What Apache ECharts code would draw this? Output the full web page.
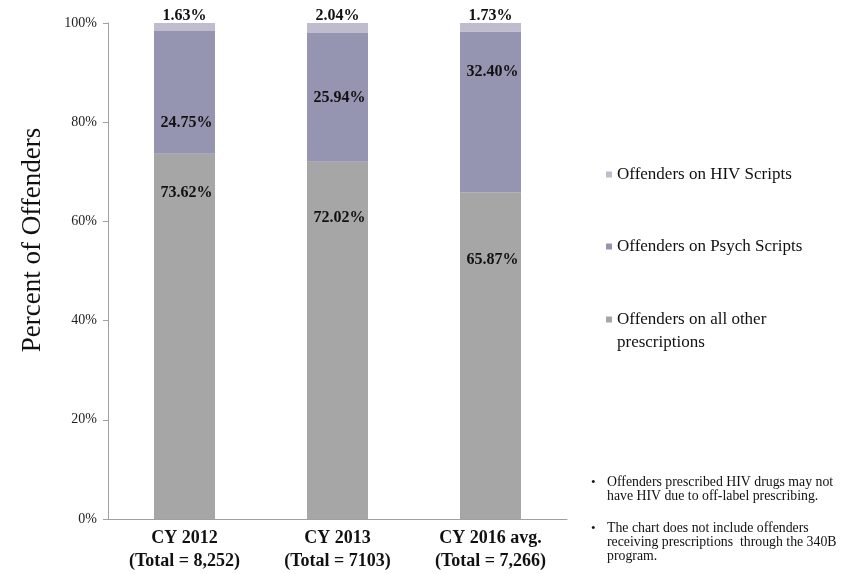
<!DOCTYPE html>
<html>
<head>
<meta charset="utf-8">
<script src="https://cdn.jsdelivr.net/npm/echarts@6/dist/echarts.min.js"></script>
<style>
  html, body { margin: 0; padding: 0; background: #ffffff; }
  #chart { width: 843px; height: 574px; }
</style>
</head>
<body>
<div id="chart"></div>
<script>
// Offender prescription mix by year (percent of offenders)
const categories = ['CY 2012\n(Total = 8,252)', 'CY 2013\n(Total = 7103)', 'CY 2016 avg.\n(Total = 7,266)'];
const otherRx = [73.62, 72.02, 65.87];
const psychRx = [24.75, 25.94, 32.40];
const hivRx = [1.63, 2.04, 1.73];
const seriesNames = ['Offenders on HIV Scripts', 'Offenders on Psych Scripts', 'Offenders on all other\nprescriptions'];
const notes = [
  ['Offenders prescribed HIV drugs may not', 'have HIV due to off-label prescribing.'],
  ['The chart does not include offenders', 'receiving prescriptions  through the 340B', 'program.']
];

// label placement inside segments (px from the segment top)
const otherLabelDy = [39, 56, 68];
const psychLabelDy = [92, 65, 40];

const FONT = "'Liberation Serif', 'DejaVu Serif', serif";
const colors = { hiv: '#bebccd', psych: '#9695b1', other: '#a6a6a6' };

const labelStyle = {
  fontFamily: FONT, fontWeight: 'bold', fontSize: 16, color: '#111'
};
const fmt = p => p.value.toFixed(2) + '%';

function withLabels(values, dys) {
  return values.map((v, i) => ({
    value: v,
    label: { position: ['50%', dys[i]], offset: [2, 0], align: 'center', verticalAlign: 'middle' }
  }));
}

const chart = echarts.init(document.getElementById('chart'), null, { renderer: 'canvas' });

const legendBase = {
  orient: 'vertical', left: 601, itemWidth: 6, itemHeight: 6, itemGap: 0,
  icon: 'rect',
  textStyle: { fontFamily: FONT, fontSize: 17, color: '#111', lineHeight: 23 }
};

const noteGraphics = [];
let ny = 475;
notes.forEach((lines) => {
  noteGraphics.push({ type: 'text', left: 591, top: ny + 1, style: { text: '•', font: '13px ' + FONT, fill: '#111' } });
  noteGraphics.push({ type: 'text', left: 607, top: ny, style: { text: lines.join('\n'), font: '13.8px ' + FONT, lineHeight: 14, fill: '#111' } });
  ny += lines.length * 14 + 18;
});

chart.setOption({
  animation: false,
  color: [colors.hiv, colors.psych, colors.other],
  grid: { left: 108, right: 276, top: 23, bottom: 55, containLabel: false, outerBoundsMode: 'none' },
  legend: [
    Object.assign({}, legendBase, { top: 158, data: [seriesNames[0]] }),
    Object.assign({}, legendBase, { top: 230, data: [seriesNames[1]] }),
    Object.assign({}, legendBase, {
      top: 280, data: [seriesNames[2]],
      // leading blank line keeps the swatch level with the first text line
      formatter: name => '\n' + name
    })
  ],
  xAxis: {
    type: 'category',
    data: categories,
    axisLine: { lineStyle: { color: '#a0a0a0' } },
    axisTick: { length: 6, lineStyle: { color: '#a0a0a0' } },
    axisLabel: { fontFamily: FONT, fontWeight: 'bold', fontSize: 18, color: '#111', lineHeight: 23, margin: 8 }
  },
  yAxis: {
    type: 'value', min: 0, max: 100, interval: 20,
    name: 'Percent of Offenders',
    nameLocation: 'middle', nameRotate: 90, nameGap: 62,
    nameTextStyle: { fontFamily: FONT, fontSize: 27, color: '#111', padding: [0, 0, 0, 62] },
    axisLine: { show: true, lineStyle: { color: '#a0a0a0' } },
    axisTick: { show: true, length: 5, lineStyle: { color: '#a0a0a0' } },
    splitLine: { show: false },
    axisLabel: { formatter: '{value}%', fontFamily: FONT, fontSize: 14, color: '#222', margin: 11 }
  },
  series: [
    {
      name: seriesNames[2], type: 'bar', stack: 'total', barWidth: 61,
      itemStyle: { color: colors.other },
      label: Object.assign({ show: true, formatter: fmt }, labelStyle),
      data: withLabels(otherRx, otherLabelDy)
    },
    {
      name: seriesNames[1], type: 'bar', stack: 'total', barWidth: 61,
      itemStyle: { color: colors.psych },
      label: Object.assign({ show: true, formatter: fmt }, labelStyle),
      data: withLabels(psychRx, psychLabelDy)
    },
    {
      name: seriesNames[0], type: 'bar', stack: 'total', barWidth: 61,
      itemStyle: { color: colors.hiv },
      label: Object.assign({ show: true, position: 'top', distance: -1, formatter: fmt }, labelStyle),
      data: hivRx
    }
  ],
  graphic: noteGraphics
});
</script>
</body>
</html>
